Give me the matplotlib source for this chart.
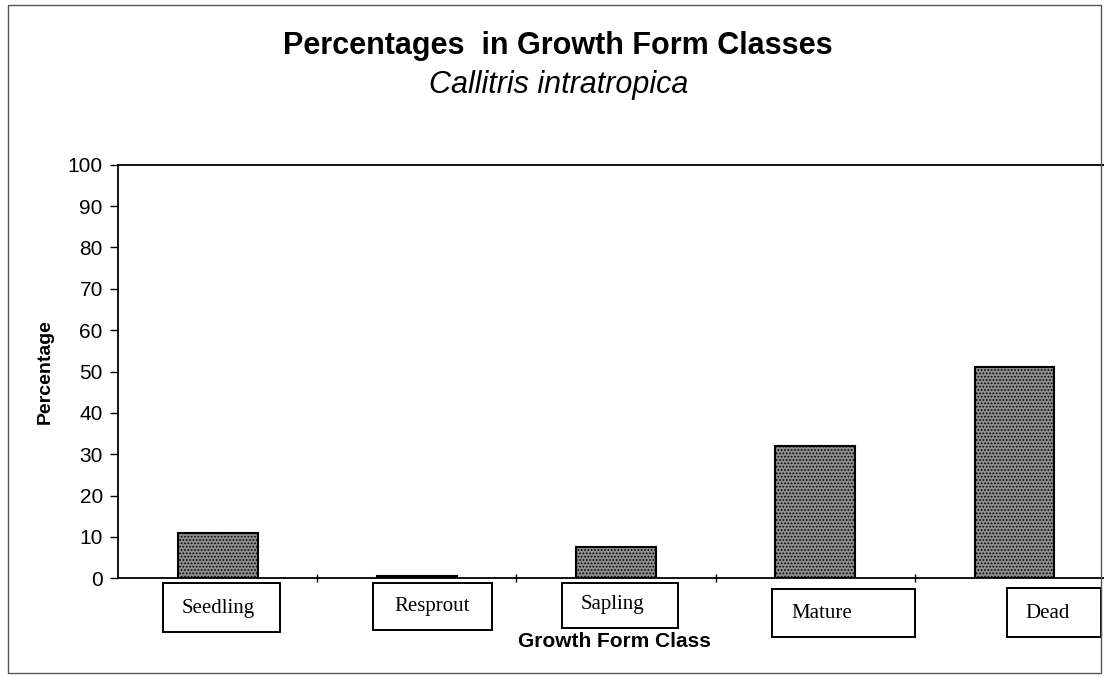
import numpy as np
import matplotlib.pyplot as plt
from matplotlib.patches import Rectangle
from matplotlib.transforms import IdentityTransform

# Data
classes = ["Seedling", "Resprout", "Sapling", "Mature", "Dead"]
percent = [11, 0.5, 7.5, 32, 51]
y_ticks = [0, 10, 20, 30, 40, 50, 60, 70, 80, 90, 100]

plt.rcParams['font.family'] = ['Liberation Sans', 'DejaVu Sans']
plt.rcParams['hatch.color'] = '#303030'
plt.rcParams['hatch.linewidth'] = 0.8

fig = plt.figure(figsize=(11.04, 6.78), dpi=100)
ax = fig.add_axes([0.107, 0.147, 0.893, 0.61])

x = np.arange(len(classes))
ax.bar(x, percent, width=0.4, color='#8e8e8e', edgecolor='black',
       linewidth=1.5, hatch='.....')

ax.set_xlim(-0.5, 4.45)
ax.set_ylim(0, 100)
ax.set_yticks(y_ticks)
ax.tick_params(axis='y', labelsize=15, length=6, width=1, pad=5)

# ticks between categories, labels drawn as boxed text below
ax.set_xticks(x[:-1] + 0.5)
ax.set_xticklabels([])
ax.tick_params(axis='x', direction='inout', length=6, width=1)

ax.spines['right'].set_visible(False)
for s in ['left', 'top', 'bottom']:
    ax.spines[s].set_linewidth(1.3)

# pasted label boxes: pixel offsets from each bar's base (left, right, top, bottom, text dx, text dy)
box_geom = [(-55, 62, 5, 54, 0, 30),
            (-44, 75, 5, 52, 15, 28),
            (-54, 62, 5, 50, -4, 26),
            (-43, 100, 11, 59, 7, 35),
            (-7, 87, 10, 59, 33, 35)]
for xi, lab, (l, r, t, b, tx, ty) in zip(x, classes, box_geom):
    px, py = ax.transData.transform((xi, 0))
    fig.add_artist(Rectangle((px + l, py - b), r - l, b - t,
                             transform=IdentityTransform(), fill=False,
                             ec='black', lw=1.4))
    fig.text(px + tx, py - ty, lab, transform=IdentityTransform(),
             ha='center', va='center', fontsize=15, family='Liberation Serif')

ax.set_ylabel("Percentage", fontsize=14, fontweight='bold', labelpad=10)
fig.text(0.557, 0.054, "Growth Form Class", ha='center', va='center',
         fontsize=15, fontweight='bold')

fig.text(0.505, 0.932, "Percentages  in Growth Form Classes", ha='center',
         va='center', fontsize=22, fontweight='bold')
fig.text(0.506, 0.875, "Callitris intratropica", ha='center', va='center',
         fontsize=22, style='italic')

# outer frame
fig.patches.append(Rectangle((0.007, 0.008), 0.99, 0.985, transform=fig.transFigure,
                             fill=False, ec='#555555', lw=1))

fig.savefig("out.png", dpi=100)
